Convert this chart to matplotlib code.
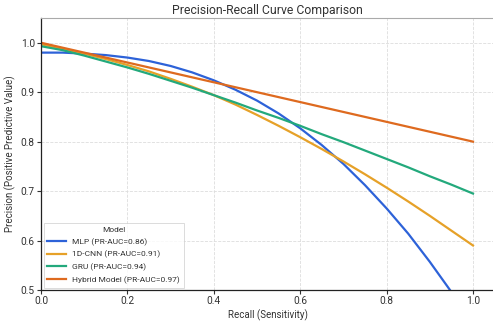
import matplotlib
matplotlib.use("Agg")
import matplotlib.pyplot as plt

recall = [0.00, 0.05, 0.10, 0.15, 0.20, 0.25, 0.30, 0.35, 0.40, 0.45, 0.50,
          0.55, 0.60, 0.65, 0.70, 0.75, 0.80, 0.85, 0.90, 0.95, 1.00]
mlp = [0.980, 0.980, 0.978, 0.975, 0.970, 0.963, 0.953, 0.940, 0.924, 0.905, 0.883,
       0.857, 0.827, 0.793, 0.755, 0.712, 0.665, 0.614, 0.557, 0.496, 0.430]
cnn = [0.997, 0.988, 0.978, 0.967, 0.955, 0.942, 0.927, 0.911, 0.894, 0.875, 0.854,
       0.832, 0.809, 0.785, 0.760, 0.734, 0.707, 0.679, 0.650, 0.620, 0.590]
gru = [0.993, 0.985, 0.974, 0.962, 0.950, 0.937, 0.923, 0.909, 0.894, 0.879, 0.863,
       0.848, 0.832, 0.815, 0.799, 0.782, 0.765, 0.748, 0.730, 0.713, 0.695]
hybrid = [1.000, 0.990, 0.980, 0.970, 0.960, 0.950, 0.940, 0.930, 0.920, 0.910, 0.900,
          0.890, 0.880, 0.870, 0.860, 0.850, 0.840, 0.830, 0.820, 0.810, 0.800]

labels = ["MLP (PR-AUC=0.86)", "1D-CNN (PR-AUC=0.91)", "GRU (PR-AUC=0.94)",
          "Hybrid Model (PR-AUC=0.97)"]
colors = ["#2d62d8", "#e6a128", "#23a97c", "#de6a1f"]

plt.rcParams['font.family'] = ['Roboto', 'DejaVu Sans']

fig = plt.figure(figsize=(4.93, 3.23), dpi=100)
ax = fig.add_axes([41/493, 33/323, 453.6/493, 272/323])

for ys, lab, c in zip([mlp, cnn, gru, hybrid], labels, colors):
    ax.plot(recall, ys, color=c, lw=1.6, label=lab)

ax.set_xlim(0, 1.05)
ax.set_ylim(0.5, 1.05)
ax.set_xticks([0.0, 0.2, 0.4, 0.6, 0.8, 1.0])
ax.set_yticks([0.5, 0.6, 0.7, 0.8, 0.9, 1.0])
ax.grid(True, linestyle='--', color='#dddddd', lw=0.6)
ax.tick_params(labelsize=7.3, length=3, width=0.8, color='#333333', labelcolor='#333333', pad=1.5)
for s in ['left', 'bottom']:
    ax.spines[s].set_color('#222222')
    ax.spines[s].set_linewidth(0.9)
ax.spines['top'].set_color('#aaaaaa')
ax.spines['right'].set_visible(False)

ax.set_title("Precision-Recall Curve Comparison", fontsize=8.8, color='#333333', pad=3)
ax.set_xlabel("Recall (Sensitivity)", fontsize=7, color='#333333', labelpad=2)
ax.set_ylabel("Precision (Positive Predictive Value)", fontsize=7, color='#333333', labelpad=3)

leg = ax.legend(title="Model", loc='lower left', fontsize=6, title_fontsize=6,
                frameon=True, fancybox=False, borderaxespad=0.3, handlelength=2.2,
                labelspacing=0.6, borderpad=0.45)
leg.get_frame().set_edgecolor('#cccccc')
leg.get_frame().set_linewidth(0.6)
for t in leg.get_texts():
    t.set_color('#333333')
leg.get_title().set_color('#333333')

fig.savefig("out.png", dpi=100)
